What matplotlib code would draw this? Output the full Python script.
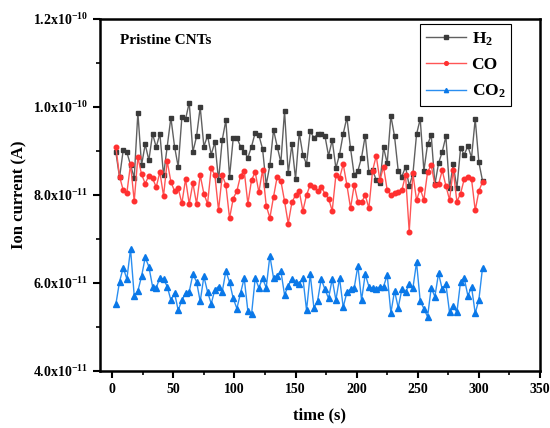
import numpy as np
import matplotlib
matplotlib.use('Agg')
import matplotlib.pyplot as plt
from matplotlib.ticker import FixedLocator, FuncFormatter

plt.rcParams['font.family'] = 'Liberation Serif'
plt.rcParams['font.weight'] = 'bold'
plt.rcParams['mathtext.fontset'] = 'custom'
plt.rcParams['mathtext.rm'] = 'Liberation Serif:bold'
plt.rcParams['mathtext.bf'] = 'Liberation Serif:bold'
plt.rcParams['mathtext.it'] = 'Liberation Serif:bold'
plt.rcParams['mathtext.default'] = 'bf'

# ── Data (ion current in units of 1e-11 A, sampled every 3 s) ─────────────
time = np.arange(3, 304, 3)

h2 = [8.97, 8.40, 9.02, 8.97, 8.68, 8.39, 9.87, 8.68, 9.15, 8.79,
      9.39, 9.09, 9.39, 8.45, 9.10, 9.76, 9.10, 8.64, 9.77, 9.72,
      10.10, 8.98, 9.33, 10.00, 9.10, 9.35, 8.92, 9.20, 8.33, 9.25,
      9.70, 8.41, 9.29, 9.30, 9.10, 8.98, 8.85, 9.10, 9.42, 9.36,
      9.05, 8.23, 8.68, 9.48, 9.10, 8.74, 9.91, 8.49, 9.15, 8.36,
      9.42, 8.91, 8.70, 9.45, 9.30, 9.38, 9.38, 9.35, 8.89, 9.25,
      8.61, 8.92, 9.39, 9.76, 9.06, 8.45, 8.55, 8.85, 9.35, 8.52,
      8.57, 8.34, 8.27, 9.08, 8.72, 9.80, 9.33, 8.55, 8.42, 8.64,
      8.21, 8.47, 9.38, 9.73, 8.55, 9.15, 9.36, 8.24, 8.72, 8.98,
      9.33, 8.15, 8.70, 8.15, 9.06, 8.92, 9.11, 8.85, 9.73, 8.74,
      8.32]

co = [9.09, 8.42, 8.11, 8.05, 8.70, 7.86, 8.86, 8.47, 8.26, 8.44,
      8.38, 8.18, 8.52, 7.98, 8.77, 8.30, 8.09, 8.15, 7.81, 8.36,
      7.80, 8.27, 7.80, 8.45, 8.03, 7.80, 8.61, 8.45, 7.65, 8.45,
      8.23, 7.47, 7.92, 8.09, 8.44, 8.55, 7.80, 8.34, 8.52, 8.06,
      8.57, 7.76, 7.48, 7.96, 8.42, 8.32, 7.86, 7.35, 7.83, 8.00,
      8.09, 7.64, 8.00, 8.23, 8.19, 8.08, 8.19, 8.03, 7.92, 7.64,
      8.45, 8.38, 8.70, 8.23, 7.70, 8.23, 7.85, 7.83, 8.00, 7.70,
      8.55, 8.89, 8.34, 8.64, 8.11, 8.00, 8.04, 8.06, 8.11, 8.45,
      7.17, 8.49, 7.88, 8.14, 7.89, 8.52, 8.68, 8.23, 8.24, 8.56,
      8.21, 7.89, 8.57, 7.85, 8.03, 8.36, 8.42, 8.36, 7.65, 8.09,
      8.30]

co2 = [5.52, 6.03, 6.35, 6.09, 6.77, 5.71, 5.82, 6.15, 6.58, 6.37,
       5.92, 5.89, 6.12, 6.09, 5.92, 5.61, 5.77, 5.38, 5.61, 5.77,
       5.80, 6.20, 6.03, 5.58, 6.15, 5.80, 5.53, 5.85, 5.92, 5.80,
       6.27, 6.02, 5.65, 5.42, 5.77, 6.11, 5.36, 5.29, 6.11, 5.89,
       6.11, 5.89, 6.62, 6.11, 6.17, 6.27, 5.73, 5.94, 6.09, 6.02,
       5.97, 6.12, 5.38, 6.20, 5.44, 5.59, 6.09, 5.86, 5.65, 6.09,
       5.61, 6.11, 5.45, 5.79, 5.86, 5.89, 6.39, 5.61, 6.20, 5.92,
       5.88, 5.86, 5.92, 5.92, 6.18, 5.32, 5.82, 5.44, 5.86, 5.79,
       5.97, 5.88, 6.47, 5.59, 5.42, 5.23, 5.89, 5.69, 6.22, 5.86,
       5.98, 5.33, 5.48, 5.33, 6.03, 6.11, 5.71, 5.91, 5.31, 5.62,
       6.35]

h2 = np.array(h2) * 1e-11
co = np.array(co) * 1e-11
co2 = np.array(co2) * 1e-11

y_ticks = [4.0e-11, 6.0e-11, 8.0e-11, 1.0e-10, 1.2e-10]
x_ticks = [0, 50, 100, 150, 200, 250, 300, 350]

# ── Plot ───────────────────────────────────────────────────────────────────
fig = plt.figure(figsize=(5.5, 4.28), dpi=100)
ax = fig.add_axes([0.1818, 0.1332, 0.80, 0.8224])

ax.plot(time, h2, '-', color='#606060', lw=1.0, marker='s', ms=3.3,
        mfc='#3a3a3a', mec='#3a3a3a', label='H$_2$')
ax.plot(time, co, '-', color='#ff5555', lw=1.0, marker='o', ms=3.3,
        mfc='#ff3030', mec='#ff3030', label='CO')
ax.plot(time, co2, '-', color='#2a8ef0', lw=1.0, marker='^', ms=3.8,
        mfc='#0a78e8', mec='#0a78e8', label='CO$_2$')

ax.set_xlim(-10, 350)
ax.set_ylim(4.0e-11, 1.2e-10)
ax.xaxis.set_major_locator(FixedLocator(x_ticks))
ax.xaxis.set_minor_locator(FixedLocator([25, 75, 125, 175, 225, 275, 325]))
ax.yaxis.set_major_locator(FixedLocator(y_ticks))
ax.yaxis.set_minor_locator(FixedLocator([5e-11, 7e-11, 9e-11, 1.1e-10]))


def sci_fmt(v, pos):
    exp = int(np.floor(np.log10(v) + 1e-9))
    mant = v / 10**exp
    return r'%.1fx10$^{%d}$' % (mant, exp)


ax.yaxis.set_major_formatter(FuncFormatter(sci_fmt))

for s in ax.spines.values():
    s.set_linewidth(1.8)
ax.tick_params(which='major', direction='out', length=5, width=1.5,
               labelsize=10, top=False, right=False)
ax.tick_params(which='minor', direction='out', length=3, width=1.2,
               top=False, right=False)
for lab in ax.get_xticklabels() + ax.get_yticklabels():
    lab.set_fontweight('bold')

ax.set_xlabel('time (s)', fontsize=12, fontweight='bold', labelpad=8)
ax.set_ylabel('Ion current (A)', fontsize=12, fontweight='bold', labelpad=4)

ax.text(0.045, 0.93, 'Pristine CNTs', transform=ax.transAxes,
        fontsize=11, fontweight='bold')

leg = ax.legend(loc='upper right', bbox_to_anchor=(0.935, 0.985),
                borderaxespad=0, fontsize=12.5, frameon=True, fancybox=False,
                framealpha=1, edgecolor='black', handlelength=2.3,
                borderpad=0.35, labelspacing=0.55, handletextpad=0.3,
                markerscale=0.8)
leg.get_frame().set_linewidth(0.8)

plt.savefig('out.png', dpi=100)
